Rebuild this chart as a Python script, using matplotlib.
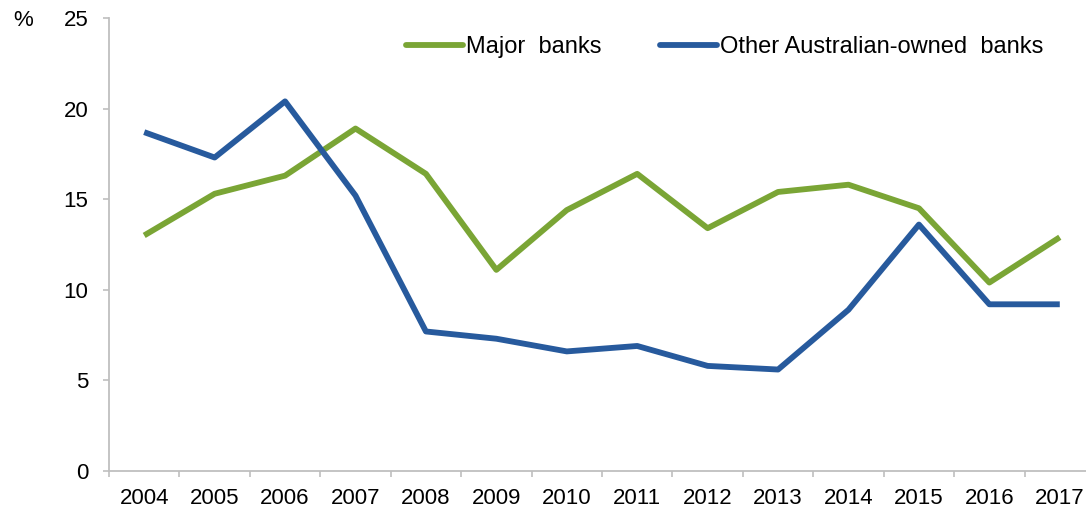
import matplotlib
matplotlib.use("Agg")
import matplotlib.pyplot as plt

years = ["2004", "2005", "2006", "2007", "2008", "2009", "2010",
         "2011", "2012", "2013", "2014", "2015", "2016", "2017"]
major_banks = [13.0, 15.3, 16.3, 18.9, 16.4, 11.1, 14.4, 16.4, 13.4, 15.4, 15.8, 14.5, 10.4, 12.9]
other_banks = [18.7, 17.3, 20.4, 15.2, 7.7, 7.3, 6.6, 6.9, 5.8, 5.6, 8.9, 13.6, 9.2, 9.2]

plt.rcParams['font.family'] = ['Liberation Sans', 'DejaVu Sans']

fig = plt.figure(figsize=(10.86, 5.13), dpi=100)
ax = fig.add_axes([109/1086, 42/513, (1095-109)/1086, 453/513])

green = "#7aa535"
blue = "#275a9d"
x = list(range(len(years)))
ax.plot(x, major_banks, color=green, lw=4.2, label="Major  banks",
        solid_capstyle="butt", solid_joinstyle="round")
ax.plot(x, other_banks, color=blue, lw=4.2, label="Other Australian-owned  banks",
        solid_capstyle="butt", solid_joinstyle="round")

ax.set_xlim(-0.5, len(years) - 0.5)
ax.set_ylim(0, 25)
ax.set_yticks([0, 5, 10, 15, 20, 25])
ax.set_xticks(x)
ax.set_xticklabels(years)
ax.set_xticks([i + 0.5 for i in range(-1, len(years))], minor=True)

for s in ["top", "right"]:
    ax.spines[s].set_visible(False)
for s in ["left", "bottom"]:
    ax.spines[s].set_color("#bfbfbf")
    ax.spines[s].set_linewidth(1.3)

ax.tick_params(axis="y", which="major", length=4.3, width=1.2, color="#bfbfbf",
               labelsize=16, pad=10.5)
ax.tick_params(axis="x", which="major", length=0, labelsize=16, pad=12)
ax.tick_params(axis="x", which="minor", length=4.3, width=1.2, color="#bfbfbf")

fig.text(23/1086, 1 - 20/513, "%", fontsize=16, ha="center", va="center")

leg = ax.legend(loc="center left", bbox_to_anchor=((406-109)/986, 1 - 29/453), ncol=2,
                frameon=False, fontsize=17, handlelength=2.4, handletextpad=0.12,
                columnspacing=2.5, borderaxespad=0, borderpad=0)
for h in leg.get_lines():
    h.set_solid_capstyle("round")

fig.savefig("out.png", dpi=100)
